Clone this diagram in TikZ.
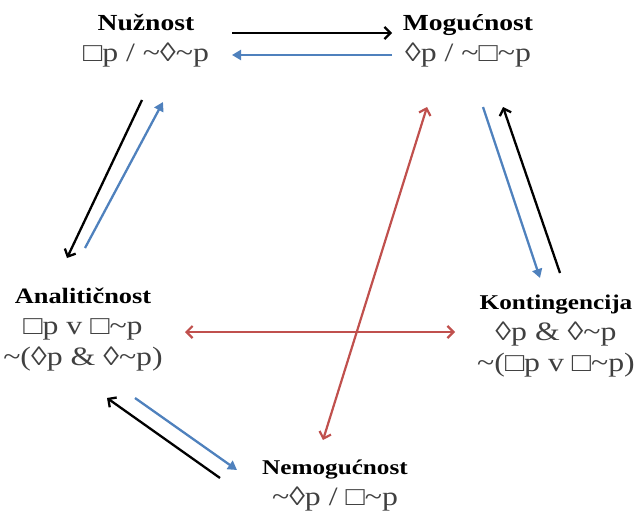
\documentclass[tikz,border=0pt]{standalone}
\usepackage{fontspec}
\setmainfont[FakeStretch=1.2]{Liberation Serif}
\usepackage{xcolor}
\usetikzlibrary{arrows.meta}

\definecolor{plava}{RGB}{79,129,189}
\definecolor{crvena}{RGB}{192,80,77}
\newcommand{\til}{\textasciitilde}

\begin{document}
\begin{tikzpicture}[x=1pt, y=-1pt,
    pojam/.style={align=center, inner sep=0pt, text=black!75,
                  font=\fontsize{26.5}{31}\selectfont},
    crna/.style={line width=2.3pt, black, -{Straight Barb[length=6pt,width=12pt]}},
    plavastr/.style={line width=2.3pt, plava, -{Triangle[length=9pt,width=10pt]}},
    crvenastr/.style={line width=2.2pt, crvena, {Straight Barb[length=6pt,width=12pt]}-{Straight Barb[length=6pt,width=12pt]}}]

    \useasboundingbox (0,0) rectangle (639,519);

    % --- pojmovi ---
    \node[pojam] (nuz) at (146,41) {{\bfseries\color{black}\fontsize{23}{28}\selectfont Nužnost}\\□p / \til◊\til p};
    \node[pojam] (mog) at (468,41) {{\bfseries\color{black}\fontsize{23}{28}\selectfont Mogućnost}\\◊p / \til□\til p};
    \node[pojam] (ana) at (83,330) {{\bfseries\color{black}\fontsize{22}{28}\selectfont Analitičnost}\\□p v □\til p\\\til(◊p \& ◊\til p)};
    \node[pojam] (kon) at (556,336) {{\bfseries\color{black}\fontsize{21}{28}\selectfont Kontingencija}\\◊p \& ◊\til p\\\til(□p v □\til p)};
    \node[pojam] (nem) at (335,486) {{\bfseries\color{black}\fontsize{21}{28}\selectfont Nemogućnost}\\\til◊p / □\til p};

    % --- krajevi strelica ---
    \coordinate (nm1) at (232,33);  \coordinate (nm2) at (392,33);
    \coordinate (mn1) at (392,55);  \coordinate (mn2) at (232,55);
    \coordinate (na1) at (142,100); \coordinate (na2) at (67,258);
    \coordinate (an1) at (85,248);  \coordinate (an2) at (163,102);
    \coordinate (mk1) at (483,107); \coordinate (mk2) at (540,278);
    \coordinate (km1) at (560,273); \coordinate (km2) at (503,107);
    \coordinate (ea1) at (220,478); \coordinate (ea2) at (107,398);
    \coordinate (ae1) at (135,398); \coordinate (ae2) at (237,470);
    \coordinate (ak1) at (185,332); \coordinate (ak2) at (455,332);
    \coordinate (me1) at (427,107); \coordinate (me2) at (323,440);

    % --- strelice ---
    \draw[crna] (nm1) -- (nm2);
    \draw[plavastr] (mn1) -- (mn2);
    \draw[crna] (na1) -- (na2);
    \draw[plavastr] (an1) -- (an2);
    \draw[plavastr] (mk1) -- (mk2);
    \draw[crna] (km1) -- (km2);
    \draw[crna] (ea1) -- (ea2);
    \draw[plavastr] (ae1) -- (ae2);

    % --- suprotnosti (crveno) ---
    \draw[crvenastr] (ak1) -- (ak2);
    \draw[crvenastr] (me1) -- (me2);

\end{tikzpicture}
\end{document}
